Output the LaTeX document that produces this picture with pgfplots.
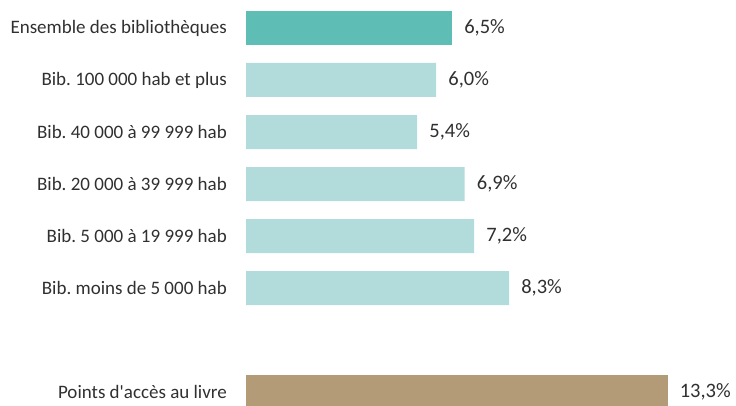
\documentclass[border=0pt]{standalone}
\usepackage{pgfplots}
\pgfplotsset{compat=1.18}
\usepackage{fontspec}
\setmainfont{Carlito}[Ligatures=TeXOff]
\frenchspacing
\definecolor{dteal}{HTML}{5EBDB4}
\definecolor{lteal}{HTML}{B1DCDB}
\definecolor{tan}{HTML}{B39B78}
\definecolor{txt}{HTML}{303030}
\begin{document}
\begin{tikzpicture}
\clip (0,0) rectangle (736pt,406pt);
\useasboundingbox (0,0) rectangle (736pt,406pt);
\begin{axis}[
  at={(246pt,404pt)}, anchor=north west,
  x=31.7pt, y=52pt, y dir=reverse,
  xmin=0, xmax=14, ymin=-0.5, ymax=7.5,
  xbar, bar width=34pt, bar shift=0pt,
  axis line style={draw=none},
  major tick length=0pt,
  xtick=\empty,
  ytick={0,1,2,3,4,5,7},
  yticklabels={Ensemble des bibliothèques, Bib. 100 000 hab et plus, Bib. 40 000 à 99 999 hab, Bib. 20 000 à 39 999 hab\hspace{5pt}, Bib. 5 000 à 19 999 hab, Bib. moins de 5 000 hab, Points d'accès au livre},
  yticklabel style={font=\fontsize{19}{22}\selectfont, text=txt, anchor=east, inner sep=0pt, xshift=-19pt},
  clip=false,
  nodes near coords={\pgfmathprintnumber[fixed,fixed zerofill,precision=1,use comma]{\pgfplotspointmeta}\%},
  nodes near coords style={font=\fontsize{20.5}{24}\selectfont, text=txt, anchor=west, inner sep=0pt, xshift=12pt},
  /pgf/number format/assume math mode=true,
  point meta=x,
]
\addplot[draw=none, fill=dteal] coordinates {(6.5,0)};
\addplot[draw=none, fill=lteal] coordinates {(6.0,1) (5.4,2) (6.9,3) (7.2,4) (8.3,5)};
\addplot[draw=none, fill=tan] coordinates {(13.3,7)};
\end{axis}
\end{tikzpicture}
\end{document}
